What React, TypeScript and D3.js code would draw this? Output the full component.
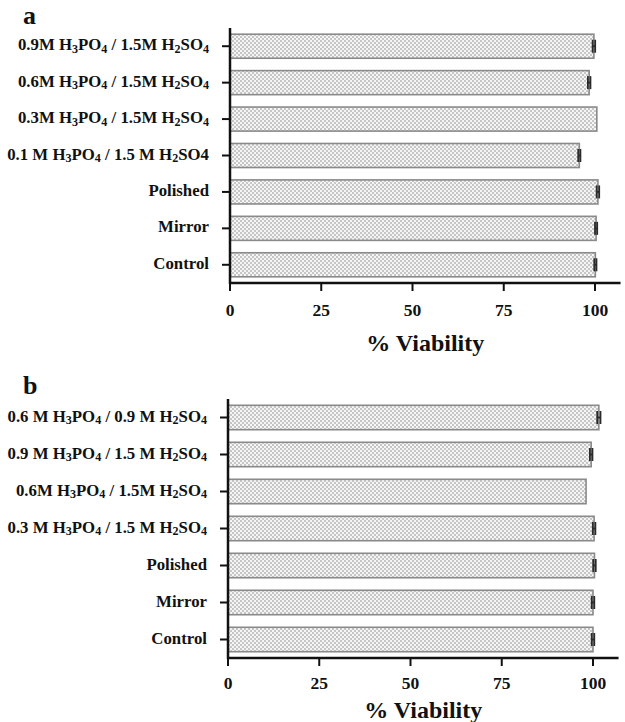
import React from "react";
import * as d3 from "d3";

// Panel a
const catsA = [
  "0.9M H_3PO_4 / 1.5M H_2SO_4",
  "0.6M H_3PO_4 / 1.5M H_2SO_4",
  "0.3M H_3PO_4 / 1.5M H_2SO_4",
  "0.1 M H_3PO_4 / 1.5 M H_2SO4",
  "Polished",
  "Mirror",
  "Control",
];
const valsA = [99.7, 98.4, 100.5, 95.7, 100.8, 100.3, 100.1];
const errA = [0.35, 0.35, 0.0, 0.3, 0.35, 0.3, 0.3];

// Panel b
const catsB = [
  "0.6 M H_3PO_4 / 0.9 M H_2SO_4",
  "0.9 M H_3PO_4 / 1.5 M H_2SO_4",
  "0.6M H_3PO_4 / 1.5M H_2SO_4",
  "0.3 M H_3PO_4 / 1.5 M H_2SO_4",
  "Polished",
  "Mirror",
  "Control",
];
const valsB = [101.6, 99.5, 98.1, 100.3, 100.4, 100.0, 100.0];
const errB = [0.45, 0.35, 0.0, 0.35, 0.35, 0.35, 0.35];

const xTicks = [0, 25, 50, 75, 100];
const xTitle = "% Viability";

const FONT = "'Liberation Serif', 'Times New Roman', serif";

function Label({ text, x, y, size }: { text: string; x: number; y: number; size: number }) {
  const parts: { t: string; sub: boolean }[] = [];
  let buf = "";
  for (let i = 0; i < text.length; i++) {
    if (text[i] === "_" && i + 1 < text.length) {
      if (buf) parts.push({ t: buf, sub: false });
      buf = "";
      parts.push({ t: text[i + 1], sub: true });
      i++;
    } else buf += text[i];
  }
  if (buf) parts.push({ t: buf, sub: false });
  let prevSub = false;
  return (
    <text x={x} y={y} textAnchor="end" dominantBaseline="middle" fontFamily={FONT} fontWeight="bold" fontSize={size} fill="#111">
      {parts.map((p, i) => {
        const dy = p.sub && !prevSub ? 3.5 : !p.sub && prevSub ? -3.5 : 0;
        prevSub = p.sub;
        return (
          <tspan key={i} dy={dy} fontSize={p.sub ? size * 0.72 : size}>
            {p.t}
          </tspan>
        );
      })}
    </text>
  );
}

function Panel({
  cats, vals, errs, letter, top, bottom, x0, xTickY, titleY, letterY, id,
}: {
  cats: string[]; vals: number[]; errs: number[]; letter: string; top: number; bottom: number;
  x0: number; xTickY: number; titleY: number; letterY: number; id: string;
}) {
  const x = d3.scaleLinear().domain([0, 107]).range([x0, x0 + 107 * 3.65]);
  const y = d3.scaleBand<string>().domain(cats).range([top, bottom]).paddingInner(0.34).paddingOuter(0.17);
  const bw = y.bandwidth();
  return (
    <g>
      <defs>
        <pattern id={id} width={4} height={4} patternUnits="userSpaceOnUse">
          <rect width={4} height={4} fill="#f5f5f5" />
          <rect x={0} y={0} width={2} height={2} fill="#c6c6c6" />
          <rect x={2} y={2} width={2} height={2} fill="#c6c6c6" />
        </pattern>
      </defs>
      <text x={23} y={letterY} fontFamily={FONT} fontWeight="bold" fontSize={26} fill="#111">{letter}</text>
      {cats.map((c, i) => {
        const yc = (y(c) as number) + bw / 2;
        const v = vals[i];
        const e = errs[i];
        return (
          <g key={c}>
            <rect x={x(0)} y={y(c)} width={x(v) - x(0)} height={bw} fill={`url(#${id})`} stroke="#8a8a8a" strokeWidth={1.6} />
            {e > 0 && (
              <g stroke="#2a2a2a" strokeWidth={1.8}>
                <line x1={x(v - e)} x2={x(v + e)} y1={yc} y2={yc} />
                <line x1={x(v - e)} x2={x(v - e)} y1={yc - 6.5} y2={yc + 6.5} />
                <line x1={x(v + e)} x2={x(v + e)} y1={yc - 6.5} y2={yc + 6.5} />
              </g>
            )}
            <line x1={x0 - 8} x2={x0} y1={yc} y2={yc} stroke="#111" strokeWidth={2} />
            <Label text={c} x={x0 - 21} y={yc} size={16.8} />
          </g>
        );
      })}
      <line x1={x0} x2={x0} y1={top} y2={bottom + 1} stroke="#111" strokeWidth={2.5} />
      <line x1={x0 - 1} x2={x(107)} y1={bottom} y2={bottom} stroke="#111" strokeWidth={2.5} />
      {xTicks.map((t) => (
        <g key={t}>
          <line x1={x(t)} x2={x(t)} y1={bottom} y2={bottom + 8} stroke="#111" strokeWidth={2} />
          <text x={x(t)} y={xTickY} textAnchor="middle" fontFamily={FONT} fontWeight="bold" fontSize={17.5} fill="#111">{t}</text>
        </g>
      ))}
      <text x={(x(0) + x(107)) / 2} y={titleY} textAnchor="middle" fontFamily={FONT} fontWeight="bold" fontSize={24} fill="#111">{xTitle}</text>
    </g>
  );
}

export default function App() {
  return (
    <svg width={625} height={722} style={{ position: "absolute", left: 0, top: 0, background: "#fff" }}>
      <rect width={625} height={722} fill="#fff" />
      <Panel id="pa" cats={catsA} vals={valsA} errs={errA} letter="a" top={28} bottom={283} x0={230} xTickY={316} titleY={351} letterY={24} />
      <Panel id="pb" cats={catsB} vals={valsB} errs={errB} letter="b" top={399} bottom={658} x0={228} xTickY={689} titleY={718} letterY={394} />
    </svg>
  );
}
